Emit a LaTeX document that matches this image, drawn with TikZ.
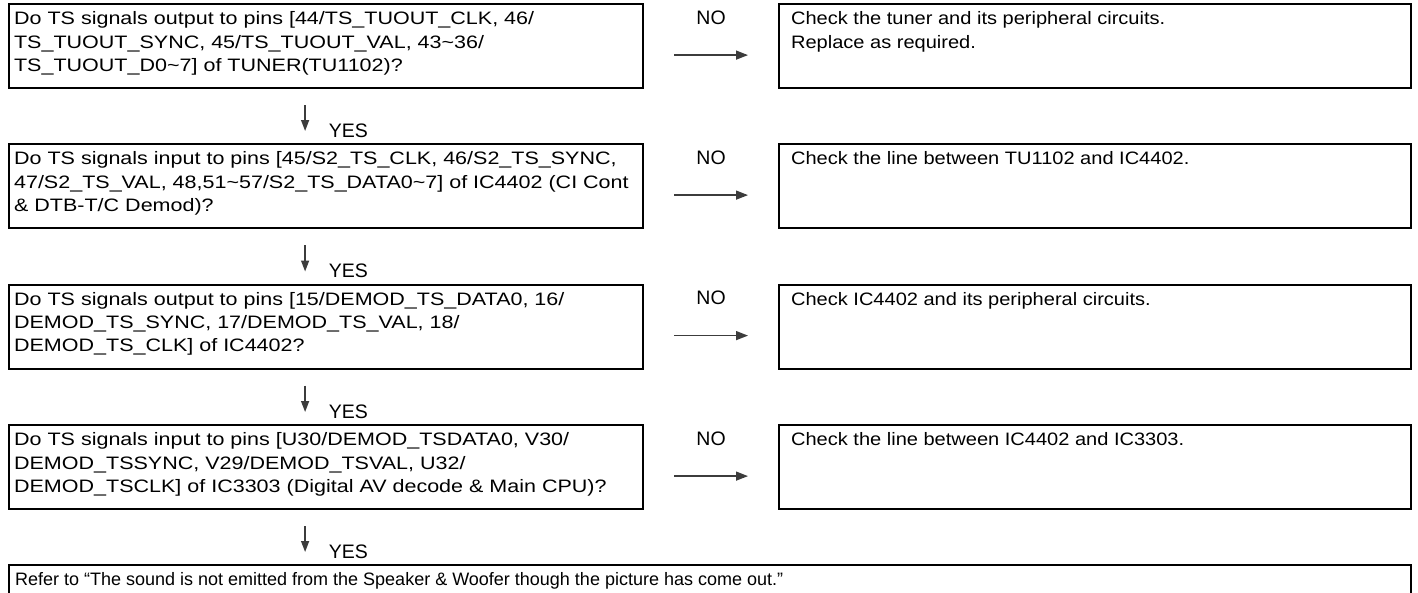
\documentclass[tikz,border=0pt]{standalone}
\usepackage{fontspec}
\setmainfont{Liberation Sans}
\newfontfamily\queryfam{Liberation Sans}[FakeStretch=1.195]
\newfontfamily\remedyfam{Liberation Sans}[FakeStretch=1.113]
\usetikzlibrary{arrows.meta,positioning}
\definecolor{frame}{HTML}{000000}
\definecolor{wire}{HTML}{3C3C3C}
\newcommand{\celltext}[3]{\parbox[t][#2][t]{#1}{\raggedright\rule{0pt}{20.7pt}#3}}
\tikzset{
  query/.style={draw=frame, line width=2.2pt, anchor=north west,
                inner xsep=5pt, inner ysep=0pt,
                font=\queryfam\fontsize{18}{23.3}\selectfont},
  remedy/.style={query, inner xsep=12pt, font=\remedyfam\fontsize{18}{23.3}\selectfont},
  refer/.style={query, inner xsep=6pt, font=\fontsize{18}{23.3}\selectfont},
  tag/.style={font=\fontsize{19.5}{23.3}\selectfont, inner sep=0pt},
  noarrow/.style={-{Triangle[length=12pt,width=9pt]}, line width=1.4pt, draw=wire,
                  shorten <=30pt, shorten >=30pt},
  yesarrow/.style={-{Triangle[length=11pt,width=8pt]}, line width=1.4pt, draw=wire,
                   shorten <=16pt, shorten >=12pt}
}
\begin{document}
\begin{tikzpicture}[x=1pt,y=-1pt]
  \useasboundingbox (0,0) rectangle (1418,592);

  % check steps
  \node[query] (q1) at (8,3) {\celltext{624pt}{84pt}{Do TS signals output to pins [44/TS\_TUOUT\_CLK, 46/\\
    TS\_TUOUT\_SYNC, 45/TS\_TUOUT\_VAL, 43\textasciitilde36/\\
    TS\_TUOUT\_D0\textasciitilde7] of TUNER(TU1102)?}};
  \node[query] (q2) at (8,143) {\celltext{624pt}{84pt}{Do TS signals input to pins [45/S2\_TS\_CLK, 46/S2\_TS\_SYNC,\\
    47/S2\_TS\_VAL, 48,51\textasciitilde57/S2\_TS\_DATA0\textasciitilde7] of IC4402 (CI Cont\\
    \& DTB-T/C Demod)?}};
  \node[query] (q3) at (8,283.5) {\celltext{624pt}{84pt}{Do TS signals output to pins [15/DEMOD\_TS\_DATA0, 16/\\
    DEMOD\_TS\_SYNC, 17/DEMOD\_TS\_VAL, 18/\\
    DEMOD\_TS\_CLK] of IC4402?}};
  \node[query] (q4) at (8,424) {\celltext{624pt}{84pt}{Do TS signals input to pins [U30/DEMOD\_TSDATA0, V30/\\
    DEMOD\_TSSYNC, V29/DEMOD\_TSVAL, U32/\\
    DEMOD\_TSCLK] of IC3303 (Digital AV decode \& Main CPU)?}};
  \node[refer] (q5) at (8,564) {\celltext{1390pt}{44pt}{Refer to “The sound is not emitted from the Speaker \& Woofer though the picture has come out.”}};

  % remedies
  \node[remedy] (a1) at (778,3) {\celltext{608pt}{84pt}{Check the tuner and its peripheral circuits.\\
    Replace as required.}};
  \node[remedy] (a2) at (778,143) {\celltext{608pt}{84pt}{Check the line between TU1102 and IC4402.}};
  \node[remedy] (a3) at (778,283.5) {\celltext{608pt}{84pt}{Check IC4402 and its peripheral circuits.}};
  \node[remedy] (a4) at (778,424) {\celltext{608pt}{84pt}{Check the line between IC4402 and IC3303.}};

  % NO branches
  \foreach \i in {1,...,4}
    {\draw[noarrow] ([yshift=-9pt]q\i.east) -- node[tag, above=30pt] {NO} ([yshift=-9pt]a\i.west);}

  % YES branches
  \coordinate (q5in) at (q4.south |- q5.north);
  \foreach \i/\j in {q1/q2.north, q2/q3.north, q3/q4.north, q4/q5in}
    {\draw[yesarrow] ([xshift=-21pt]\i.south) -- ([xshift=-21pt]\j)
       node[tag, anchor=base west, xshift=23pt, yshift=6pt] {YES};}
\end{tikzpicture}
\end{document}
